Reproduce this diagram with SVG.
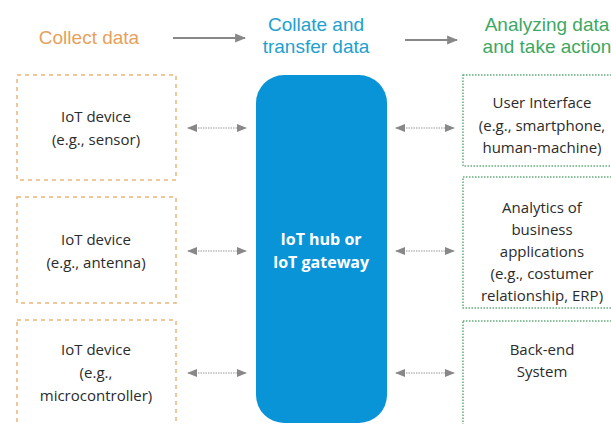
<svg xmlns="http://www.w3.org/2000/svg" width="611" height="424" viewBox="0 0 611 424">
<defs>
<style>
.hdr{font-family:"Liberation Sans",Arial,sans-serif;font-size:19px;text-anchor:middle}
.t{font-family:"Open Sans","Noto Sans",sans-serif;font-size:15px;fill:#2b2b2b;text-anchor:middle}
.hub{font-family:"Open Sans","Noto Sans",sans-serif;font-size:16px;font-weight:bold;fill:#fff;text-anchor:middle}
.lb{fill:#fff;stroke:#E9B57A;stroke-width:1.5;stroke-dasharray:4 4}
.rb{fill:#fff;stroke:#62AE7A;stroke-width:1.5;stroke-dasharray:1.5 1.5}
.conn{stroke:#999;stroke-width:1.2;stroke-dasharray:1.5 1;fill:none}
.hconn{stroke:#888;stroke-width:2;fill:none}
</style>
<marker id="ah" viewBox="0 0 10 10" refX="9" refY="5" markerWidth="10" markerHeight="10" markerUnits="userSpaceOnUse" orient="auto-start-reverse">
<path d="M0,1 L10,5 L0,9 Z" fill="#888"/>
</marker>
<marker id="ah2" viewBox="0 0 10 10" refX="9" refY="5" markerWidth="11" markerHeight="11" markerUnits="userSpaceOnUse" orient="auto">
<path d="M0,1 L10,5 L0,9 Z" fill="#888"/>
</marker>
</defs>
<rect width="611" height="424" fill="#fff"/>
<g id="headers">
<text class="hdr" x="89" y="44" fill="#E6A15C">Collect data</text>
<text class="hdr" x="316" y="31" fill="#22A0CF">Collate and</text>
<text class="hdr" x="316" y="53" fill="#22A0CF">transfer data</text>
<text class="hdr" x="547" y="31" fill="#3DA862">Analyzing data</text>
<text class="hdr" x="547" y="53" fill="#3DA862">and take action</text>
</g>
<g id="connectors">
<line class="hconn" x1="173" y1="38" x2="245" y2="38" marker-end="url(#ah2)"/>
<line class="hconn" x1="405" y1="40" x2="457" y2="40" marker-end="url(#ah2)"/>
<line class="conn" x1="188" y1="128" x2="246" y2="128" marker-start="url(#ah)" marker-end="url(#ah)"/>
<line class="conn" x1="188" y1="251" x2="246" y2="251" marker-start="url(#ah)" marker-end="url(#ah)"/>
<line class="conn" x1="188" y1="373" x2="246" y2="373" marker-start="url(#ah)" marker-end="url(#ah)"/>
<line class="conn" x1="396" y1="128" x2="454" y2="128" marker-start="url(#ah)" marker-end="url(#ah)"/>
<line class="conn" x1="396" y1="251" x2="454" y2="251" marker-start="url(#ah)" marker-end="url(#ah)"/>
<line class="conn" x1="396" y1="373" x2="454" y2="373" marker-start="url(#ah)" marker-end="url(#ah)"/>
</g>
<g id="dev1">
<rect class="lb" x="17" y="75" width="159" height="105"/>
<text class="t" x="96" y="122">IoT device</text>
<text class="t" x="96" y="145">(e.g., sensor)</text>
</g>
<g id="dev2">
<rect class="lb" x="17" y="197" width="159" height="106"/>
<text class="t" x="96" y="245">IoT device</text>
<text class="t" x="96" y="268">(e.g., antenna)</text>
</g>
<g id="dev3">
<rect class="lb" x="17" y="320" width="159" height="120"/>
<text class="t" x="96" y="355">IoT device</text>
<text class="t" x="96" y="378">(e.g.,</text>
<text class="t" x="96" y="401">microcontroller)</text>
</g>
<g id="hub">
<rect x="256" y="75" width="131" height="348" rx="28" ry="28" fill="#0A94D8"/>
<text class="hub" x="321" y="245">IoT hub or</text>
<text class="hub" x="321" y="268">IoT gateway</text>
</g>
<g id="ui">
<rect class="rb" x="463" y="75" width="160" height="91"/>
<text class="t" x="542" y="108">User Interface</text>
<text class="t" x="542" y="131">(e.g., smartphone,</text>
<text class="t" x="542" y="153">human-machine)</text>
</g>
<g id="analytics">
<rect class="rb" x="463" y="177" width="160" height="131"/>
<text class="t" x="542" y="213">Analytics of</text>
<text class="t" x="542" y="235">business</text>
<text class="t" x="542" y="257">applications</text>
<text class="t" x="542" y="279">(e.g., costumer</text>
<text class="t" x="542" y="301">relationship, ERP)</text>
</g>
<g id="backend">
<rect class="rb" x="463" y="321" width="160" height="120"/>
<text class="t" x="542" y="355">Back-end</text>
<text class="t" x="542" y="377">System</text>
</g>
</svg>
